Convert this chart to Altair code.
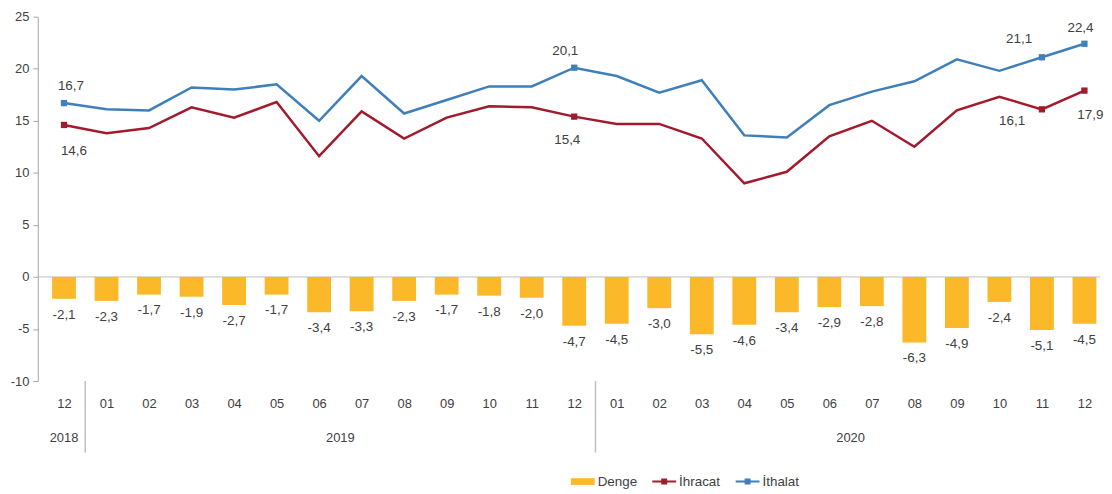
import json
import altair as alt
import pandas as pd

# ---- data ----
months = ["12", "01", "02", "03", "04", "05", "06", "07", "08", "09", "10", "11",
          "12", "01", "02", "03", "04", "05", "06", "07", "08", "09", "10", "11", "12"]
years = ["2018"] + ["2019"] * 12 + ["2020"] * 12
ithalat = [16.7, 16.1, 16.0, 18.2, 18.0, 18.5, 15.0, 19.3, 15.7, 17.0, 18.3, 18.3,
           20.1, 19.3, 17.7, 18.9, 13.6, 13.4, 16.5, 17.8, 18.8, 20.9, 19.8, 21.1, 22.4]
ihracat = [14.6, 13.8, 14.3, 16.3, 15.3, 16.8, 11.6, 15.9, 13.3, 15.3, 16.4, 16.3,
           15.4, 14.7, 14.7, 13.3, 9.0, 10.1, 13.5, 15.0, 12.5, 16.0, 17.3, 16.1, 17.9]
denge = [-2.1, -2.3, -1.7, -1.9, -2.7, -1.7, -3.4, -3.3, -2.3, -1.7, -1.8, -2.0,
         -4.7, -4.5, -3.0, -5.5, -4.6, -3.4, -2.9, -2.8, -6.3, -4.9, -2.4, -5.1, -4.5]
labeled_points = [0, 12, 23, 24]
series_names = ["Denge", "İhracat", "İthalat"]
y_ticks = [-10, -5, 0, 5, 10, 15, 20, 25]

# ---- styles ----
C_BAR = "#FBB829"
C_RED = "#A31A2D"
C_BLUE = "#3F7FBA"
C_TEXT = "#404040"
C_AXIS = "#A6A6A6"
FONT = "Liberation Sans"
W, H = 1070, 367
FS_AXIS = 13
FS_LBL = 13.5

def fmt(v):
    return f"{v:.1f}".replace(".", ",")

n = len(months)
df = pd.DataFrame({
    "idx": list(range(n)),
    "month": months,
    "year": years,
    "denge": denge,
    "ihracat": ihracat,
    "ithalat": ithalat,
})
df["denge_lbl"] = df["denge"].map(fmt)
df["ihracat_lbl"] = df["ihracat"].map(fmt)
df["ithalat_lbl"] = df["ithalat"].map(fmt)

sep_df = pd.DataFrame({"idx": [i - 0.5 for i in range(1, n) if years[i] != years[i - 1]]})
year_df = df.groupby("year", as_index=False)["idx"].mean()
zero_df = pd.DataFrame({"v": [0]})
legend_df = pd.DataFrame({"series": series_names, "idx": [0, 0, 0], "v": [0, 0, 0]})

x_scale = alt.Scale(domain=[-0.5, 24.25], nice=False, zero=False)
x_axis = alt.Axis(
    values=list(range(n)),
    labelExpr=json.dumps(months) + "[datum.value]",
    domain=False, ticks=False, grid=False, labelPadding=17,
    labelFontSize=FS_AXIS, labelColor=C_TEXT, labelFont=FONT, title=None,
    labelFlush=False, labelOverlap=False,
)
x_enc = alt.X("idx:Q", scale=x_scale, axis=x_axis)
y_scale = alt.Scale(domain=[-10, 25], nice=False, zero=False)
y_axis = alt.Axis(
    values=y_ticks, labelExpr="'' + datum.value", grid=False,
    domainColor=C_AXIS, tickColor=C_AXIS, tickSize=5, labelPadding=4,
    labelFontSize=FS_AXIS, labelColor=C_TEXT, labelFont=FONT, title=None,
)

def yenc(field):
    return alt.Y(f"{field}:Q", scale=y_scale, axis=y_axis)

base = alt.Chart(df)

zero_rule = alt.Chart(zero_df).mark_rule(color="#BFBFBF", strokeWidth=1).encode(y=yenc("v"))
bars = base.mark_bar(width=24, color=C_BAR).encode(x=x_enc, y=yenc("denge"))
bar_text = base.mark_text(dy=16, baseline="middle", fontSize=FS_LBL, color=C_TEXT, font=FONT).encode(
    x=x_enc, y=yenc("denge"), text="denge_lbl:N")

line_red = base.mark_line(color=C_RED, strokeWidth=2.5).encode(x=x_enc, y=yenc("ihracat"))
line_blue = base.mark_line(color=C_BLUE, strokeWidth=2.5).encode(x=x_enc, y=yenc("ithalat"))

mk = base.transform_filter(alt.FieldOneOfPredicate(field="idx", oneOf=labeled_points))
sq_red = mk.mark_square(size=40, color=C_RED, opacity=1).encode(x=x_enc, y=yenc("ihracat"))
sq_blue = mk.mark_square(size=40, color=C_BLUE, opacity=1).encode(x=x_enc, y=yenc("ithalat"))

# label offsets (style): idx -> ((blue dx, dy), (red dx, dy))
offsets = {0: ((7, -17), (10, 26)), 12: ((-9, -17), (-7, 24)),
           23: ((-23, -18), (-30, 12)), 24: ((-4, -16), (6, 25))}
label_layers = []
for i in labeled_points:
    (bdx, bdy), (rdx, rdy) = offsets[i]
    one = base.transform_filter(alt.datum.idx == i)
    label_layers.append(one.mark_text(dx=bdx, dy=bdy, fontSize=FS_LBL, color=C_TEXT, font=FONT).encode(
        x=x_enc, y=yenc("ithalat"), text="ithalat_lbl:N"))
    label_layers.append(one.mark_text(dx=rdx, dy=rdy, fontSize=FS_LBL, color=C_TEXT, font=FONT).encode(
        x=x_enc, y=yenc("ihracat"), text="ihracat_lbl:N"))

seps = alt.Chart(sep_df).mark_rule(color="#BFBFBF", strokeWidth=1.5).encode(
    x=x_enc, y=alt.value(H), y2=alt.value(H + 72))
year_text = alt.Chart(year_df).mark_text(fontSize=FS_AXIS, color=C_TEXT, font=FONT, baseline="middle").encode(
    x=x_enc, y=alt.value(H + 57), text="year:N")

paths = [
    "M-1,-0.28H1V0.28H-1Z",
    "M-1,-0.08H1V0.08H-1Z M-0.25,-0.25H0.25V0.25H-0.25Z",
    "M-1,-0.08H1V0.08H-1Z M-0.25,-0.25H0.25V0.25H-0.25Z",
]
leg = alt.Legend(title=None, orient="none", legendX=537, legendY=456, direction="horizontal",
                 symbolSize=576, symbolOpacity=1, symbolStrokeWidth=0, labelFontSize=FS_LBL,
                 labelColor=C_TEXT, labelFont=FONT, columnPadding=15, labelOffset=3)
legend_layer = alt.Chart(legend_df).mark_point(filled=True, opacity=0).encode(
    x=x_enc, y=yenc("v"),
    color=alt.Color("series:N", scale=alt.Scale(domain=series_names, range=[C_BAR, C_RED, C_BLUE]), legend=leg),
    shape=alt.Shape("series:N", scale=alt.Scale(domain=series_names, range=paths), legend=leg),
)

chart = alt.layer(
    zero_rule, bars, bar_text, line_blue, line_red, sq_blue, sq_red, *label_layers,
    seps, year_text, legend_layer,
).properties(
    width=W, height=H,
    autosize=alt.AutoSizeParams(type="none"),
    padding={"left": 30, "top": 7, "right": 4, "bottom": 108},
).configure(font=FONT).configure_view(stroke=None)

chart.save("out.html", embed_options={"renderer": "svg", "actions": False})
